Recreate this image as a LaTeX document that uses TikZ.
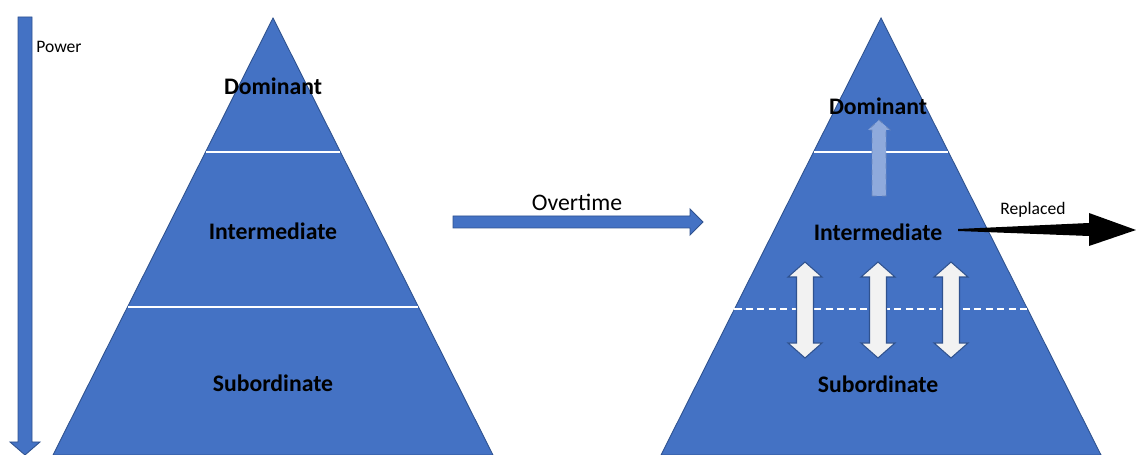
\documentclass[tikz,border=0pt]{standalone}
\usepackage{fontspec}
\setmainfont{Carlito}
\usepackage{xcolor}
\usepackage{tikz}
\usetikzlibrary{calc}
\definecolor{PyrBlue}{HTML}{4472C4}
\definecolor{PyrEdge}{HTML}{2F528F}
\definecolor{PyrLight}{HTML}{8FAADC}
\definecolor{PyrPale}{HTML}{F2F2F2}

\begin{document}
\begin{tikzpicture}[x=0.02cm, y=-0.02cm, line join=miter,
  pyramid/.style={fill=PyrBlue, draw=PyrEdge, line width=0.5pt},
  divider/.style={draw=white, line width=1pt},
  block/.style={fill=PyrBlue, draw=PyrEdge, line width=0.5pt},
  swap/.style={fill=PyrPale, draw=PyrEdge, line width=0.6pt},
  tier/.style={font=\bfseries\fontsize{13.5}{16}\selectfont, inner sep=0pt},
  caption/.style={font=\fontsize{10}{12}\selectfont, inner sep=0pt}]

\useasboundingbox (0,0) rectangle (1136,455);

% before: three ranked tiers
\coordinate (Ltop) at (273,18);
\coordinate (Lbl) at (53,455);
\coordinate (Lbr) at (493,455);
\draw[pyramid] (Ltop) -- (Lbr) -- (Lbl) -- cycle;
\draw[divider] ($(Ltop)!0.3066!(Lbl)$) -- ($(Ltop)!0.3066!(Lbr)$);
\draw[divider] ($(Ltop)!0.6613!(Lbl)$) -- ($(Ltop)!0.6613!(Lbr)$);

\node[tier] (ldom) at (273,86) {Dominant};
\node[tier] (lint) at (273,231) {Intermediate};
\node[tier] (lsub) at (273,383) {Subordinate};

% power axis
\draw[block] (18,17) -- (32,17) -- (32,442) -- (40,442) -- (25,455) -- (10,442) -- (18,442) -- cycle;
\node[caption, anchor=west] (power) at (36,47) {Power};

% passage of time
\draw[block] (453,216) -- (690,216) -- (690,209) -- (703,222) -- (690,235) -- (690,228) -- (453,228) -- cycle;
\node[font=\fontsize{13.5}{16}\selectfont, inner sep=0pt] (time) at (577,202) {Overtime};

% after: mobility between tiers
\coordinate (Rtop) at (881,18);
\coordinate (Rbl) at (661,455);
\coordinate (Rbr) at (1101,455);
\draw[pyramid] (Rtop) -- (Rbr) -- (Rbl) -- cycle;
\draw[divider] ($(Rtop)!0.3066!(Rbl)$) -- ($(Rtop)!0.3066!(Rbr)$);
\draw[divider, dash pattern=on 4pt off 2.5pt] ($(Rtop)!0.666!(Rbl)$) -- ($(Rtop)!0.666!(Rbr)$);

\draw[fill=PyrLight, draw=PyrEdge!40!PyrLight, dashed, line width=0.5pt]
  (872,196) -- (872,130) -- (868,130) -- (879,120) -- (890,130) -- (886,130) -- (886,196) -- cycle;

\foreach \cx in {805,878,951}{
  \draw[swap] (\cx-8.5,277) -- (\cx-17,277) -- (\cx,262) -- (\cx+17,277) -- (\cx+8.5,277)
    -- (\cx+8.5,343) -- (\cx+17,343) -- (\cx,358) -- (\cx-17,343) -- (\cx-8.5,343) -- cycle;
}

\node[tier] (rdom) at (878,106) {Dominant};
\node[tier] (rint) at (878,232) {Intermediate};
\node[tier] (rsub) at (878,384) {Subordinate};

% pushed out of the group
\fill[black] (958,229) -- (1089,223) -- (1089,213) -- (1136,230) -- (1089,246) -- (1089,236) -- (958,231) -- cycle;
\node[caption] (out) at (1033,210) {Replaced};
\end{tikzpicture}
\end{document}
